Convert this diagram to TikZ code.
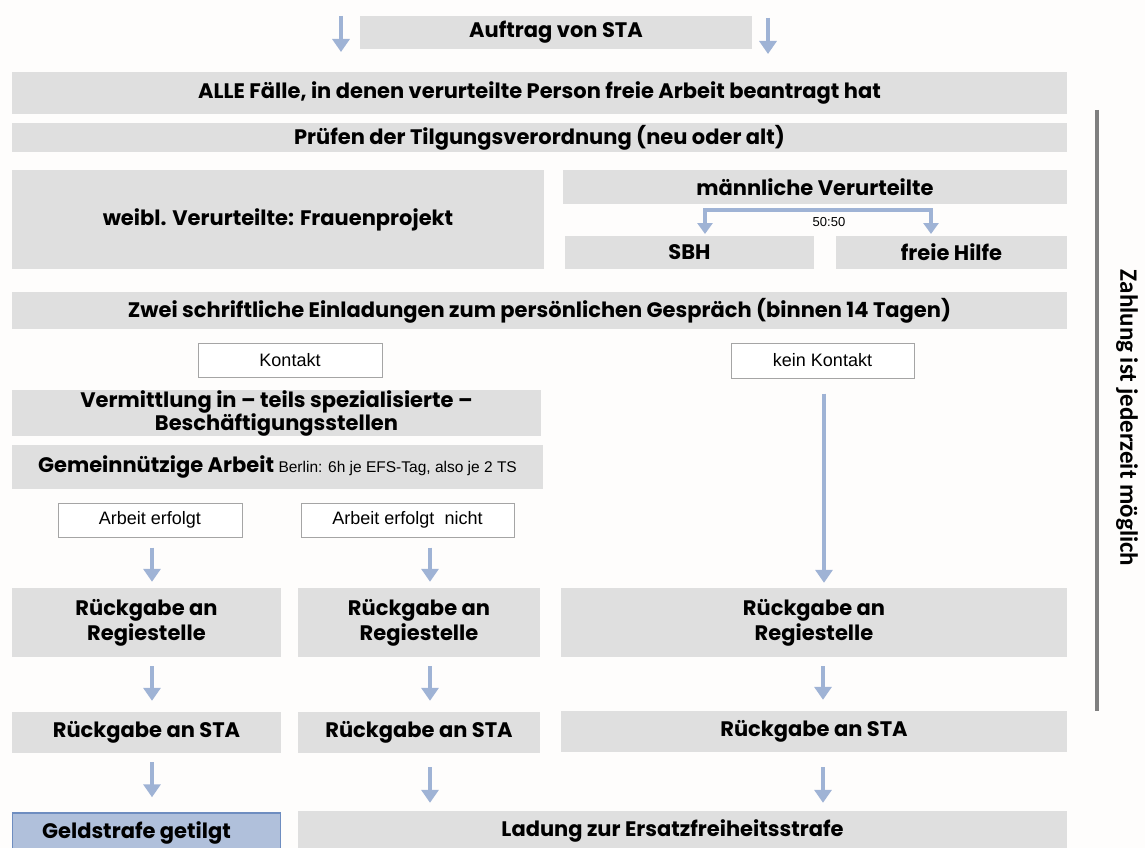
\documentclass[tikz,border=0pt]{standalone}
\usepackage{fontspec}
\setmainfont{Poppins}
\newfontfamily\arialf{Liberation Sans}
\newfontfamily\sidef{Carlito}
\usetikzlibrary{arrows.meta,calc}
\definecolor{boxgray}{HTML}{DFDFDF}
\definecolor{arrblue}{HTML}{9FB3D5}
\definecolor{geldfill}{HTML}{B0C0DB}
\definecolor{geldline}{HTML}{6E8DC0}
\definecolor{sidegray}{HTML}{7F7F7F}
\definecolor{wborder}{HTML}{A5A5A5}
\definecolor{bgc}{HTML}{FEFDFC}
\tikzset{
  gbox/.style={fill=boxgray, inner sep=0pt, align=center,
    font=\fontsize{21}{23}\selectfont\bfseries},
  wbox/.style={fill=white, draw=wborder, line width=1pt, inner sep=0pt,
    font=\arialf\fontsize{18}{20}\selectfont},
  arr/.style={draw=arrblue, line width=4.5pt, -{Triangle[width=17pt,length=13pt]}},
  arrboth/.style={draw=arrblue, line width=3.5pt,
    {Triangle[width=15pt,length=11pt]}-{Triangle[width=15pt,length=11pt]}},
}
\begin{document}
\begin{tikzpicture}[x=1pt,y=-1pt]
\useasboundingbox (0,0) rectangle (1145,848);
\fill[bgc] (0,0) rectangle (1145,848);

\node[gbox, minimum width=392pt, minimum height=33pt] (auftrag) at (556,32.5) {Auftrag von STA};
\node[gbox, minimum width=1055pt, minimum height=42pt] (alle) at (539.5,93) {ALLE Fälle, in denen verurteilte Person freie Arbeit beantragt hat};
\node[gbox, minimum width=1055pt, minimum height=29pt] (pruefen) at (539.5,137.5) {Prüfen der Tilgungsverordnung (neu oder alt)};
\node[gbox, minimum width=532pt, minimum height=99pt] (weibl) at (278,219.5) {weibl. Verurteilte: Frauenprojekt};
\node[gbox, minimum width=504pt, minimum height=34pt] (maennl) at (815,187) {männliche Verurteilte};
\node[gbox, minimum width=249pt, minimum height=33pt] (sbh) at (689.5,252.5) {SBH};
\node[gbox, minimum width=231pt, minimum height=33pt] (freie) at (951.5,252.5) {freie Hilfe};
\node[gbox, minimum width=1055pt, minimum height=37pt] (zwei) at (539.5,310.5) {Zwei schriftliche Einladungen zum persönlichen Gespräch (binnen 14 Tagen)};
\node[wbox, minimum width=184pt, minimum height=34pt] (kontakt) at (290,360) {Kontakt};
\node[wbox, minimum width=183pt, minimum height=35pt] (keink) at (822.5,360.5) {kein Kontakt};
\node[gbox, minimum width=529pt, minimum height=44pt] (verm) at (276.5,413) {Vermittlung in – teils spezialisierte –\\Beschäftigungsstellen};
\node[gbox, minimum width=531pt, minimum height=44pt] (gemein) at (277.5,467) {Gemeinnützige Arbeit {\arialf\mdseries\fontsize{15.5}{17}\selectfont Berlin: 6h je EFS-Tag, also je 2 TS}};
\node[wbox, minimum width=184pt, minimum height=34pt] (erfolgt) at (150,520) {Arbeit erfolgt};
\node[wbox, minimum width=213pt, minimum height=34pt] (nicht) at (407.5,520) {Arbeit erfolgt\ \ nicht};
\node[gbox, minimum width=269pt, minimum height=69pt, font=\fontsize{21}{25}\selectfont\bfseries] (reg1) at (146.5,622.5) {Rückgabe an\\Regiestelle};
\node[gbox, minimum width=242pt, minimum height=69pt, font=\fontsize{21}{25}\selectfont\bfseries] (reg2) at (419,622.5) {Rückgabe an\\Regiestelle};
\node[gbox, minimum width=506pt, minimum height=69pt, font=\fontsize{21}{25}\selectfont\bfseries] (reg3) at (814,622.5) {Rückgabe an\\Regiestelle};
\node[gbox, minimum width=269pt, minimum height=41pt] (sta1) at (146.5,732.5) {Rückgabe an STA};
\node[gbox, minimum width=242pt, minimum height=41pt] (sta2) at (419,732.5) {Rückgabe an STA};
\node[gbox, minimum width=506pt, minimum height=41pt] (sta3) at (814,731.5) {Rückgabe an STA};
\node[gbox, fill=geldfill, draw=geldline, line width=1.5pt, minimum width=268pt, minimum height=40pt] (geld) at (146.5,833) {Geldstrafe getilgt\hspace*{20pt}};
\node[gbox, minimum width=769pt, minimum height=39pt] (ladung) at (682.5,830.5) {Ladung zur Ersatzfreiheitsstrafe\hspace*{20pt}};

% top arrows
\coordinate (tl1) at (341,16); \coordinate (tl2) at (341,52);
\coordinate (tr1) at (768,18); \coordinate (tr2) at (768,54);
\draw[arr] (tl1) -- (tl2);
\draw[arr] (tr1) -- (tr2);

% 50:50 bracket
\coordinate (b1) at (705,234); \coordinate (b2) at (931,210); \coordinate (b3) at (931,234);
\draw[arrboth] (b1) |- (b2) -- (b3);
\node[font=\arialf\fontsize{13}{15}\selectfont, inner sep=0pt] (fifty) at (829,222) {50:50};

% connectors (y grows downwards)
\draw[arr] ($(keink.south)+(1.5,15)$) -- ($(reg3.north -| keink.south)+(1.5,-5)$);
\draw[arr] ($(erfolgt.south)+(2,10)$) -- ($(reg1.north -| erfolgt.south)+(2,-6)$);
\draw[arr] ($(nicht.south)+(22.5,10)$) -- ($(reg2.north -| nicht.south)+(22.5,-6)$);
\draw[arr] ($(reg1.south)+(5.5,9)$) -- ($(sta1.north)+(5.5,-11)$);
\draw[arr] ($(reg2.south)+(11,9)$) -- ($(sta2.north)+(11,-11)$);
\draw[arr] ($(reg3.south)+(9,9)$) -- ($(sta3.north)+(9,-11)$);
\draw[arr] ($(sta1.south)+(5.5,9)$) -- ($(geld.north)+(5.5,-15)$);
\draw[arr] ($(sta2.south)+(11,14)$) -- ($(ladung.north -| sta2.south)+(11,-8)$);
\draw[arr] ($(sta3.south)+(9,15)$) -- ($(ladung.north -| sta3.south)+(9,-8)$);

% side bar
\coordinate (s1) at (1097,110); \coordinate (s2) at (1097,711);
\draw[sidegray, line width=4.5pt] (s1) -- (s2);
\node[rotate=-90, font=\sidef\bfseries\fontsize{25}{27}\selectfont, inner sep=0pt] (side) at (1127,418) {Zahlung ist jederzeit möglich};
\end{tikzpicture}
\end{document}
